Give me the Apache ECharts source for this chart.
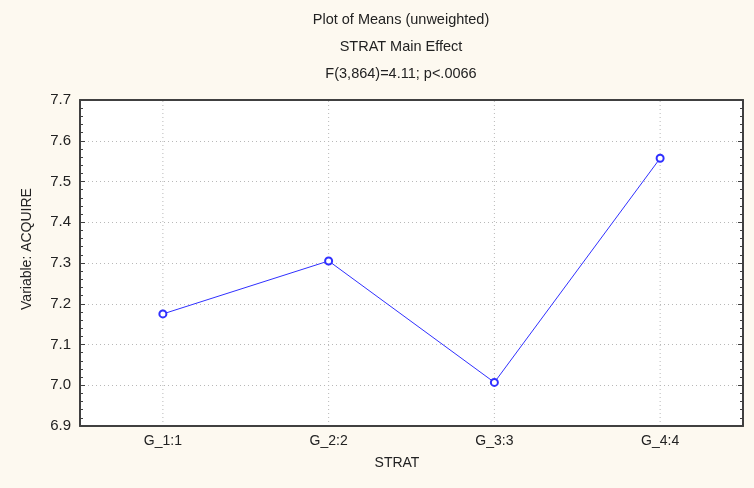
<!DOCTYPE html>
<html>
<head>
<meta charset="utf-8">
<script src="https://cdn.jsdelivr.net/npm/echarts@6/dist/echarts.min.js"></script>
<style>
html, body { margin: 0; padding: 0; background: #fdf9f0; }
#chart { width: 754px; height: 488px; }
</style>
</head>
<body>
<div id="chart"></div>
<script>
const categories = ['G_1:1', 'G_2:2', 'G_3:3', 'G_4:4']
const acquireMeans = [7.175, 7.305, 7.007, 7.557]
const titleLines = ['Plot of Means (unweighted)', 'STRAT Main Effect', 'F(3,864)=4.11; p<.0066']
const xName = 'STRAT'
const yName = 'Variable: ACQUIRE'

const chart = echarts.init(document.getElementById('chart'))

const axisColor = '#404040'
const gridColor = '#b8b8b8'
const textStyle = { color: '#222', fontFamily: 'Liberation Sans, Arial', fontSize: 14 }

const option = {
	backgroundColor: '#fdf9f0',
	animation: false,
	title: {
		text: titleLines.join('\n'),
		left: 396,
		textAlign: 'center',
		top: 1,
		textStyle: { ...textStyle, fontWeight: 'normal', fontSize: 14.5, lineHeight: 27 },
	},
	grid: { left: 80, right: 11, top: 100, bottom: 62, backgroundColor: '#fff', show: true, borderWidth: 0 },
	xAxis: [
		{
			type: 'category',
			data: categories,
			boundaryGap: true,
			axisLine: { lineStyle: { color: axisColor, width: 2 } },
			axisTick: { inside: true, alignWithLabel: true, length: 4, lineStyle: { color: axisColor } },
			axisLabel: { ...textStyle, margin: 8 },
			splitLine: { show: false },
		},
		{
			type: 'category',
			data: categories,
			position: 'top',
			boundaryGap: true,
			axisLine: { lineStyle: { color: axisColor, width: 2 } },
			axisTick: { inside: true, alignWithLabel: true, length: 4, lineStyle: { color: axisColor } },
			axisLabel: { show: false },
			splitLine: { show: false },
		},
	],
	yAxis: [
		{
			type: 'value',
			min: 6.9,
			max: 7.7,
			interval: 0.1,
			axisLine: { show: true, lineStyle: { color: axisColor, width: 2 } },
			axisTick: { show: true, inside: true, length: 5, lineStyle: { color: axisColor } },
			minorTick: { show: true, splitNumber: 5, length: 3, lineStyle: { color: axisColor } },
			axisLabel: { ...textStyle, fontSize: 15, margin: 9, formatter: (v) => v.toFixed(1) },
			splitLine: { show: true, lineStyle: { color: gridColor, type: [1, 3] } },
		},
		{
			type: 'value',
			min: 6.9,
			max: 7.7,
			interval: 0.1,
			position: 'right',
			axisLine: { show: true, lineStyle: { color: axisColor, width: 2 } },
			axisTick: { show: true, inside: true, length: 5, lineStyle: { color: axisColor } },
			minorTick: { show: true, splitNumber: 5, length: 3, lineStyle: { color: axisColor } },
			axisLabel: { show: false },
			splitLine: { show: false },
		},
	],
	series: [
		{
			type: 'line',
			data: acquireMeans,
			symbol: 'emptyCircle',
			symbolSize: 7,
			lineStyle: { color: '#3030ff', width: 1 },
			itemStyle: { color: '#3030ff', borderWidth: 1 },
			z: 5,
		},
	],
}

chart.setOption(option)

// vertical dotted grid lines through the category centres, plus axis names
const verticals = categories.map((c) => {
	const x = chart.convertToPixel({ xAxisIndex: 0 }, c)
	return {
		type: 'line',
		shape: { x1: x, y1: 101, x2: x, y2: 425 },
		style: { stroke: gridColor, lineDash: [1, 3], lineWidth: 1 },
		z: 1,
	}
})
const names = [
	{
		type: 'text',
		x: 397,
		y: 463,
		style: { ...textStyle, fill: '#222', text: xName, align: 'center', verticalAlign: 'middle' },
	},
	{
		type: 'text',
		x: 27,
		y: 249,
		rotation: Math.PI / 2,
		style: { ...textStyle, fill: '#222', text: yName, align: 'center', verticalAlign: 'middle' },
	},
]
chart.setOption({ graphic: verticals.concat(names) })
</script>
</body>
</html>
